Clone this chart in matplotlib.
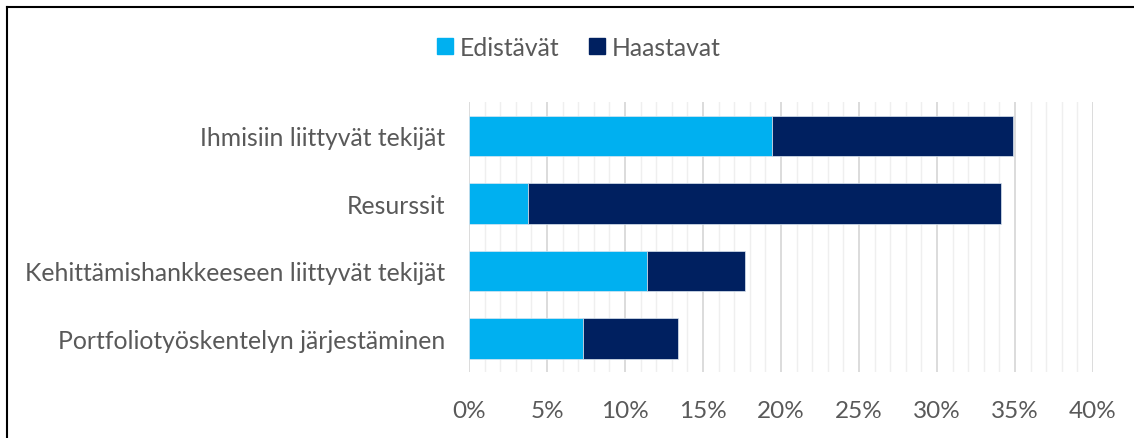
import numpy as np
import matplotlib
matplotlib.use("Agg")
import matplotlib.pyplot as plt
from matplotlib.lines import Line2D
from matplotlib.ticker import MultipleLocator, PercentFormatter

plt.rcParams["font.family"] = ["Lato", "DejaVu Sans"]

# ── Data ─────────────────────────────────────────────────────────────────────
categories = [
    "Ihmisiin liittyvät tekijät",
    "Resurssit",
    "Kehittämishankkeeseen liittyvät tekijät",
    "Portfoliotyöskentelyn järjestäminen",
]
edistavat = [19.4, 3.8, 11.4, 7.3]
haastavat = [15.5, 30.3, 6.3, 6.1]
series_names = ["Edistävät", "Haastavat"]

c_light = "#00b0f0"
c_dark = "#002060"
txt = "#595959"

fig = plt.figure(figsize=(11.34, 4.39), dpi=100)
ax = fig.add_axes([469 / 1134, 1 - 373 / 439, (1093 - 469) / 1134, (373 - 103) / 439])

y = np.arange(len(categories))
ax.barh(y, edistavat, height=0.6, color=c_light, edgecolor="#dbe6f0", linewidth=0.5, zorder=3)
ax.barh(y, haastavat, left=edistavat, height=0.6, color=c_dark, edgecolor="#dbe6f0",
        linewidth=0.5, zorder=3)

ax.set_xlim(0, 40)
ax.set_ylim(len(categories) - 0.5, -0.5)
ax.set_yticks(y)
ax.set_yticklabels(categories)
ax.xaxis.set_major_locator(MultipleLocator(5))
ax.xaxis.set_minor_locator(MultipleLocator(1))
ax.xaxis.set_major_formatter(PercentFormatter(decimals=0))
ax.grid(axis="x", which="major", color="#d9d9d9", linewidth=1.3, zorder=0)
ax.grid(axis="x", which="minor", color="#efefef", linewidth=1.0, zorder=0)
ax.tick_params(axis="x", which="both", length=0, labelsize=17.5, labelcolor=txt, pad=20)
ax.tick_params(axis="y", length=0, labelsize=17.8, labelcolor=txt, pad=17)
for s in ax.spines.values():
    s.set_visible(False)

handles = [
    Line2D([], [], marker="s", linestyle="none", markersize=12, color=c_light),
    Line2D([], [], marker="s", linestyle="none", markersize=12, color=c_dark),
]
leg = fig.legend(handles, series_names, loc="center", bbox_to_anchor=(578 / 1134, 1 - 48 / 439),
                 ncol=2, frameon=False, fontsize=17.8, handletextpad=0.2, columnspacing=1.1,
                 handlelength=0.8)
for t in leg.get_texts():
    t.set_color(txt)

# frame edges visible in the original (top and left)
fig.add_artist(Line2D([7 / 1134, 1], [1 - 8 / 439, 1 - 8 / 439], color="black", linewidth=1.5))
fig.add_artist(Line2D([7 / 1134, 7 / 1134], [0, 1 - 8 / 439], color="black", linewidth=1.5))

fig.savefig("out.png", dpi=100)
